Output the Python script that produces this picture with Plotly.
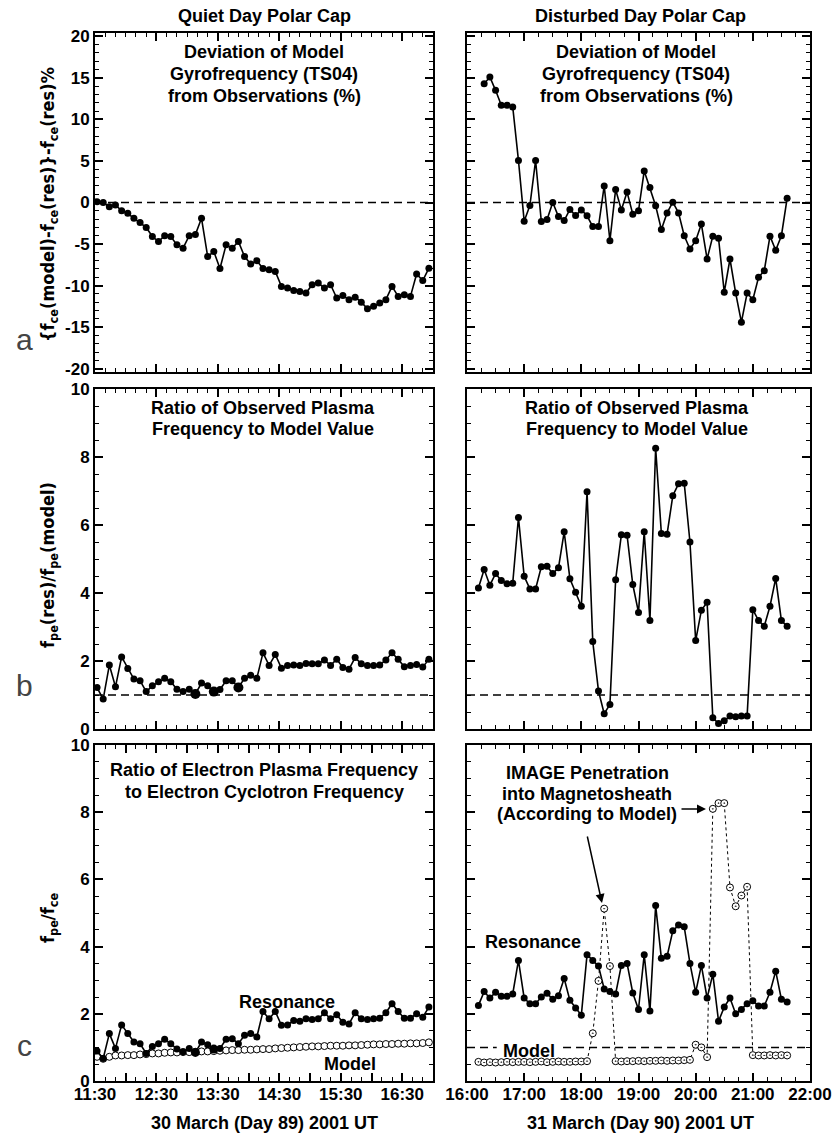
import plotly.graph_objects as go

# ---------------- data ----------------
quiet_times = [
    "11:32", "11:38", "11:44", "11:50", "11:56", "12:02", "12:08", "12:14", "12:20", "12:26",
    "12:32", "12:38", "12:44", "12:50", "12:56", "13:02", "13:08", "13:14", "13:20", "13:26",
    "13:32", "13:38", "13:44", "13:50", "13:56", "14:02", "14:08", "14:14", "14:20", "14:26",
    "14:32", "14:38", "14:44", "14:50", "14:56", "15:02", "15:08", "15:14", "15:20", "15:26",
    "15:32", "15:38", "15:44", "15:50", "15:56", "16:02", "16:08", "16:14", "16:20", "16:26",
    "16:32", "16:38", "16:44", "16:50", "16:56",
]
disturbed_times = [
    "16:12", "16:18", "16:24", "16:30", "16:36", "16:42", "16:48", "16:54", "17:00", "17:06",
    "17:12", "17:18", "17:24", "17:30", "17:36", "17:42", "17:48", "17:54", "18:00", "18:06",
    "18:12", "18:18", "18:24", "18:30", "18:36", "18:42", "18:48", "18:54", "19:00", "19:06",
    "19:12", "19:18", "19:24", "19:30", "19:36", "19:42", "19:48", "19:54", "20:00", "20:06",
    "20:12", "20:18", "20:24", "20:30", "20:36", "20:42", "20:48", "20:54", "21:00", "21:06",
    "21:12", "21:18", "21:24", "21:30", "21:36",
]

# (a) deviation of model gyrofrequency from observations, %
quiet_dev = [
    0.1, 0.0, -0.5, -0.3, -1.0, -1.3, -1.9, -2.4, -3.0, -4.1,
    -4.7, -4.0, -4.1, -5.1, -5.5, -4.0, -3.85, -1.9, -6.5, -5.9,
    -7.95, -5.1, -5.5, -4.7, -6.5, -7.4, -7.0, -7.95, -8.1, -8.3,
    -10.1, -10.3, -10.6, -10.7, -10.9, -9.9, -9.7, -10.3, -9.9, -11.5,
    -11.2, -11.7, -11.4, -12.0, -12.8, -12.5, -12.1, -11.7, -10.1, -11.3,
    -11.1, -11.3, -8.6, -9.4, -7.9,
]
# the disturbed-day deviation series starts one sample later than the others
disturbed_dev = [
    14.3, 15.1, 13.5, 11.7, 11.7, 11.5, 5.06, -2.25, -0.36, 5.06,
    -2.3, -2.05, 0.0, -1.7, -2.17, -0.84, -1.57, -0.9, -1.6, -2.9,
    -2.9, 2.0, -4.6, 1.57, -0.9, 1.25, -1.4, -1.0, 3.8, 1.8,
    -0.4, -3.25, -1.25, 0.04, -1.25, -4.0, -5.6, -4.6, -2.6, -6.8,
    -4.05, -4.3, -10.8, -6.8, -10.9, -14.4, -10.9, -11.7, -9.0, -8.2,
    -4.05, -5.75, -4.0, 0.5,
]

# (b) ratio of observed plasma frequency to model value
quiet_ratio = [
    1.22, 0.88, 1.88, 1.24, 2.12, 1.78, 1.47, 1.42, 1.10, 1.27,
    1.39, 1.49, 1.39, 1.17, 1.10, 1.17, 1.03, 1.35, 1.27, 1.10,
    1.16, 1.42, 1.42, 1.22, 1.49, 1.58, 1.49, 2.24, 1.87, 2.19,
    1.79, 1.87, 1.88, 1.87, 1.93, 1.92, 1.92, 2.03, 1.87, 2.05,
    1.81, 1.76, 2.10, 1.92, 1.87, 1.87, 1.88, 2.03, 2.24, 2.05,
    1.83, 1.87, 1.90, 1.82, 2.05,
]
disturbed_ratio = [
    4.15, 4.69, 4.23, 4.57, 4.37, 4.27, 4.29, 6.22, 4.49, 4.12,
    4.12, 4.77, 4.79, 4.57, 4.74, 5.80, 4.42, 4.02, 3.61, 6.98,
    2.57, 1.12, 0.45, 0.72, 4.39, 5.71, 5.70, 4.25, 3.43, 5.80,
    3.19, 8.26, 5.75, 5.73, 6.86, 7.21, 7.23, 5.50, 2.60, 3.49,
    3.73, 0.33, 0.16, 0.24, 0.38, 0.36, 0.38, 0.38, 3.51, 3.19,
    3.02, 3.61, 4.43, 3.19, 3.02,
]

# (c) fpe/fce from resonances and from the model
quiet_res = [
    0.89, 0.67, 1.41, 0.97, 1.67, 1.41, 1.16, 1.11, 0.82, 1.03,
    1.11, 1.24, 1.11, 0.95, 0.87, 0.97, 0.85, 1.16, 1.08, 0.95,
    0.97, 1.24, 1.26, 1.11, 1.36, 1.41, 1.31, 2.07, 1.85, 2.07,
    1.66, 1.67, 1.80, 1.78, 1.85, 1.83, 1.85, 2.03, 1.85, 1.97,
    1.75, 1.70, 2.03, 1.85, 1.83, 1.85, 1.87, 2.03, 2.30, 2.07,
    1.87, 1.87, 2.00, 1.90, 2.20,
]
quiet_model = [
    0.72, 0.66, 0.72, 0.76, 0.76, 0.77, 0.77, 0.79, 0.80, 0.82,
    0.82, 0.84, 0.85, 0.85, 0.86, 0.86, 0.87, 0.88, 0.88, 0.89,
    0.90, 0.91, 0.92, 0.92, 0.93, 0.93, 0.94, 0.95, 0.95, 0.97,
    0.98, 0.99, 1.00, 1.01, 1.02, 1.03, 1.03, 1.04, 1.05, 1.05,
    1.05, 1.06, 1.06, 1.07, 1.08, 1.09, 1.09, 1.10, 1.10, 1.11,
    1.11, 1.12, 1.12, 1.13, 1.15,
]
disturbed_res = [
    2.25, 2.66, 2.47, 2.64, 2.52, 2.52, 2.59, 3.59, 2.47, 2.30,
    2.30, 2.50, 2.61, 2.43, 2.54, 3.05, 2.40, 2.17, 1.96, 3.76,
    3.59, 3.42, 2.74, 2.66, 2.59, 3.44, 3.50, 2.62, 2.13, 3.76,
    2.08, 5.22, 3.65, 3.71, 4.47, 4.64, 4.59, 3.50, 2.64, 3.44,
    2.47, 3.18, 1.78, 2.20, 2.47, 2.00, 2.13, 2.30, 2.39, 2.23,
    2.23, 2.64, 3.27, 2.43, 2.35,
]
disturbed_model = [
    0.57, 0.55, 0.56, 0.55, 0.56, 0.57, 0.56, 0.57, 0.57, 0.56,
    0.57, 0.58, 0.56, 0.57, 0.58, 0.57, 0.57, 0.58, 0.58, 0.59,
    1.42, 2.98, 5.13, 3.42, 0.59, 0.58, 0.59, 0.59, 0.60, 0.59,
    0.60, 0.60, 0.61, 0.60, 0.61, 0.61, 0.62, 0.63, 1.08, 1.00,
    0.71, 8.10, 8.27, 8.27, 5.76, 5.20, 5.52, 5.78, 0.77, 0.76,
    0.76, 0.77, 0.76, 0.77, 0.76,
]

# samples where two resonance soundings fall on top of each other
quiet_ratio_doubled = [16, 19, 23]
quiet_res_doubled = [16, 19]

quiet_ticks = ["11:30", "", "12:30", "", "13:30", "", "14:30", "", "15:30", "", "16:30", ""]
disturbed_ticks = ["16:00", "17:00", "18:00", "19:00", "20:00", "21:00", "22:00"]


def hours(t):
    h, m = t.split(":")
    return int(h) + int(m) / 60.0


qx = [hours(t) for t in quiet_times]
dx = [hours(t) for t in disturbed_times]

# ---------------- layout helpers ----------------
W, H = 833, 1136
FONT = "Liberation Sans, Arial, Helvetica, sans-serif"
NARROW = "Liberation Sans Narrow, DejaVu Sans Condensed, Arial Narrow, Liberation Sans, sans-serif"


def px(x):
    return x / W


def py(y):
    return 1 - y / H


col_dom = [[px(95), px(433)], [px(467), px(810)]]
row_dom = [[py(372), py(33)], [py(729), py(389)], [py(1081), py(745)]]

tickfont = dict(family=FONT, size=17, color="black", weight="bold")

base_axis = dict(
    showline=True, linecolor="black", linewidth=2, mirror="allticks",
    ticks="inside", tickcolor="black", tickwidth=1.5, ticklen=8,
    showgrid=False, zeroline=False, tickfont=tickfont, automargin=False,
)
minor_tick = dict(ticks="inside", ticklen=4, tickwidth=1, tickcolor="black", tickmode="linear")

fig = go.Figure()
layout = dict(
    width=W, height=H, margin=dict(l=0, r=0, t=0, b=0, autoexpand=False),
    paper_bgcolor="white", plot_bgcolor="white", showlegend=False,
)

yranges = [[-20.4, 20.4], [0, 10], [0, 10]]
for r in range(3):
    for c in range(2):
        k = r * 2 + c + 1
        sfx = "" if k == 1 else str(k)
        if c == 0:
            xa = dict(base_axis, range=[11.5, 17.0], domain=col_dom[0],
                      tickmode="array", tickvals=[11.5 + 0.5 * i for i in range(12)],
                      ticktext=quiet_ticks,
                      minor=dict(minor_tick, tick0=11.5, dtick=1 / 6))
        else:
            xa = dict(base_axis, range=[16.0, 22.0], domain=col_dom[1],
                      tickmode="array", tickvals=[16 + i for i in range(7)],
                      ticktext=disturbed_ticks,
                      minor=dict(minor_tick, tick0=16, dtick=0.25))
        xa["showticklabels"] = (r == 2)
        xa["ticklabelstandoff"] = -3
        xa["anchor"] = "y" + sfx
        if r == 0:
            ya = dict(base_axis, range=yranges[0], tickmode="array",
                      tickvals=[20, 15, 10, 5, 0, -5, -10, -15, -20],
                      ticktext=["20", "15", "10", "5", "0", "-5", "-10", "-15", "-20"],
                      minor=dict(minor_tick, tick0=0, dtick=1))
        else:
            ya = dict(base_axis, range=yranges[r], tickmode="linear", tick0=0, dtick=2,
                      minor=dict(minor_tick, tick0=0, dtick=0.5))
        ya["domain"] = row_dom[r]
        ya["showticklabels"] = (c == 0)
        ya["anchor"] = "x" + sfx
        layout["xaxis" + sfx] = xa
        layout["yaxis" + sfx] = ya

fig.update_layout(**layout)


def ax_ref(k):
    sfx = "" if k == 1 else str(k)
    return "x" + sfx, "y" + sfx


line_style = dict(color="black", width=1.6)


def dots(size=7):
    return dict(color="black", size=size, opacity=1, line=dict(width=0))


def sized(n, doubled, small=7, big=10):
    return [big if i in doubled else small for i in range(n)]


# dashed reference levels (the fpe/fce=1 line is broken around its "Model" label)
ref_levels = [(1, 0.0, 11.5, 17.0), (2, 0.0, 16.0, 22.0), (3, 1.0, 11.5, 17.0),
              (4, 1.0, 16.0, 22.0), (6, 1.0, 16.0, 16.52), (6, 1.0, 17.68, 22.0)]
shapes = []
for k, lvl, x0, x1 in ref_levels:
    xr, yr = ax_ref(k)
    shapes.append(dict(type="line", xref=xr, yref=yr, x0=x0, x1=x1, y0=lvl, y1=lvl,
                       line=dict(color="black", width=1.5, dash="8px,5px"), layer="below"))
fig.update_layout(shapes=shapes)

# (a)
fig.add_trace(go.Scatter(x=qx, y=quiet_dev, mode="lines+markers", line=line_style,
                         marker=dots(), xaxis="x", yaxis="y"))
fig.add_trace(go.Scatter(x=dx[1:], y=disturbed_dev, mode="lines+markers", line=line_style,
                         marker=dots(), xaxis="x2", yaxis="y2"))
# (b)
fig.add_trace(go.Scatter(x=qx, y=quiet_ratio, mode="lines+markers", line=line_style,
                         marker=dots(sized(len(qx), quiet_ratio_doubled)),
                         xaxis="x3", yaxis="y3"))
fig.add_trace(go.Scatter(x=dx, y=disturbed_ratio, mode="lines+markers", line=line_style,
                         marker=dots(), xaxis="x4", yaxis="y4"))
# (c)
fig.add_trace(go.Scatter(x=qx, y=quiet_model, mode="markers",
                         marker=dict(color="white", size=7, opacity=1,
                                     line=dict(color="black", width=1)),
                         xaxis="x5", yaxis="y5"))
fig.add_trace(go.Scatter(x=qx, y=quiet_res, mode="lines+markers", line=line_style,
                         marker=dots(sized(len(qx), quiet_res_doubled, big=9)),
                         xaxis="x5", yaxis="y5"))
fig.add_trace(go.Scatter(x=dx, y=disturbed_res, mode="lines+markers", line=line_style,
                         marker=dots(), xaxis="x6", yaxis="y6"))
fig.add_trace(go.Scatter(x=dx, y=disturbed_model, mode="lines+markers",
                         line=dict(color="black", width=1, dash="dot"),
                         marker=dict(symbol="circle-dot", color="white", size=7, opacity=1,
                                     line=dict(color="black", width=1)),
                         xaxis="x6", yaxis="y6"))

# ---------------- text ----------------
ann = []


def text(x, y, s, size=18, bold=True, family=FONT, color="black", angle=0):
    ann.append(dict(x=px(x), y=py(y), xref="paper", yref="paper", text=s, showarrow=False,
                    xanchor="center", yanchor="middle", textangle=angle,
                    font=dict(family=family, size=size, color=color,
                              weight="bold" if bold else "normal")))


def lines(x, y0, step, rows, size=18):
    for i, s in enumerate(rows):
        text(x, y0 + i * step, s, size=size)


text(264, 16, "Quiet Day Polar Cap")
text(640, 16, "Disturbed Day Polar Cap")
text(264, 1123, "30 March (Day 89) 2001 UT")
text(640, 1123, "31 March (Day 90) 2001 UT")

lines(264, 52, 22, ["Deviation of Model", "Gyrofrequency (TS04)", "from Observations (%)"])
lines(636, 52, 22, ["Deviation of Model", "Gyrofrequency (TS04)", "from Observations (%)"])
lines(263, 408, 21, ["Ratio of Observed Plasma", "Frequency to Model Value"])
lines(637, 408, 21, ["Ratio of Observed Plasma", "Frequency to Model Value"])
lines(264, 770, 22, ["Ratio of Electron Plasma Frequency", "to Electron Cyclotron Frequency"])
lines(587, 773, 20.5, ["IMAGE Penetration", "into Magnetosheath", "(According to Model)"])

text(287, 1002, "Resonance")
text(350, 1064, "Model")
text(533, 942, "Resonance")
text(529, 1051, "Model")

# panel letters
text(24, 339, "a", size=30, bold=False, color="#444")
text(24, 685, "b", size=30, bold=False, color="#444")
text(24, 1045, "c", size=30, bold=False, color="#444")

# vertical axis titles
text(49, 205, "{f<sub>ce</sub>(model)-f<sub>ce</sub>(res)}-f<sub>ce</sub>(res)%", size=18,
     family=NARROW, angle=-90)
text(49, 565, "f<sub>pe</sub>(res)/f<sub>pe</sub>(model)", size=18, family=NARROW, angle=-90)
text(49, 918, "f<sub>pe</sub>/f<sub>ce</sub>", size=18, family=NARROW, angle=-90)

# arrows pointing at the magnetosheath intervals
ann.append(dict(x=px(602), y=py(903), xref="paper", yref="paper", ax=-15, ay=-68,
                showarrow=True, arrowhead=2, arrowsize=1.2, arrowwidth=1.5,
                arrowcolor="black", text=""))
ann.append(dict(x=px(706), y=py(809), xref="paper", yref="paper", ax=-26, ay=0,
                showarrow=True, arrowhead=2, arrowsize=1.2, arrowwidth=1.5,
                arrowcolor="black", text=""))

fig.update_layout(annotations=ann)

fig.write_html("out.html")
